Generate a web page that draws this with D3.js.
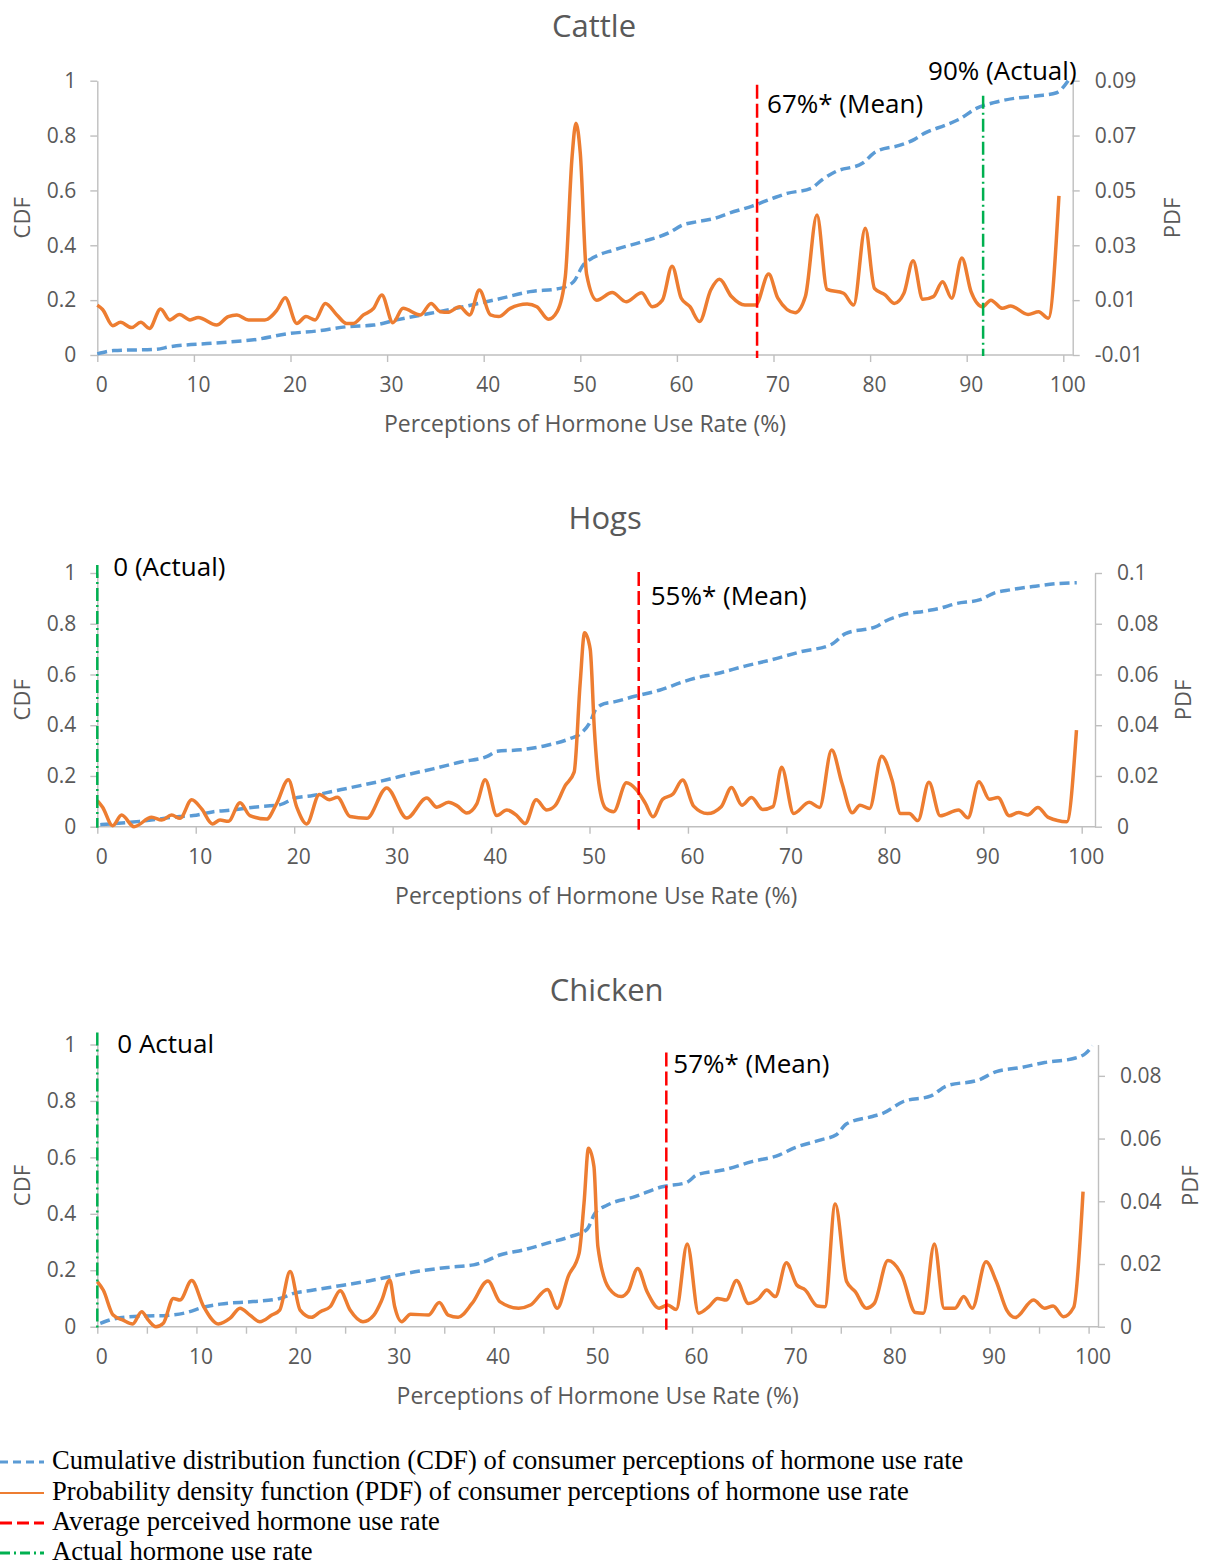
<!DOCTYPE html>
<html>
<head>
<meta charset="utf-8">
<script src="https://cdn.jsdelivr.net/npm/d3@7"></script>
<style>
  body { margin: 0; background: #fff; }
  svg { display: block; }
</style>
</head>
<body>
<script>
// ---- data (x = perceived hormone use rate, %) ----
const xTicks = [0, 10, 20, 30, 40, 50, 60, 70, 80, 90, 100];
const xMinorTicks = [0, 5, 10, 15, 20, 25, 30, 35, 40, 45, 50, 55, 60, 65, 70, 75, 80, 85, 90, 95, 100];
const cdfTicks = [0, 0.2, 0.4, 0.6, 0.8, 1];
const cattlePdfTicks = [-0.01, 0.01, 0.03, 0.05, 0.07, 0.09];
const hogsPdfTicks = [0, 0.02, 0.04, 0.06, 0.08, 0.1];
const chickenPdfTicks = [0, 0.02, 0.04, 0.06, 0.08];

const cattleCdf = [[0,0.004],[1.7,0.016],[6.1,0.021],[7.5,0.030],[12.0,0.043],[16.5,0.057],[19.6,0.077],[23.1,0.089],[25.8,0.103],[28.6,0.109],[31.0,0.128],[34.5,0.152],[37.9,0.176],[41.4,0.203],[44.8,0.231],[47.9,0.243],[49.3,0.267],[50.3,0.328],[51.4,0.356],[53.5,0.383],[56.4,0.413],[59.2,0.446],[60.6,0.474],[62.1,0.486],[63.9,0.498],[65.3,0.516],[67.8,0.543],[69.9,0.571],[71.4,0.589],[73.9,0.608],[75.0,0.638],[76.4,0.668],[79.2,0.699],[80.6,0.741],[83.1,0.765],[84.6,0.786],[85.6,0.808],[87.8,0.838],[89.2,0.859],[91.0,0.899],[92.8,0.920],[95.0,0.936],[97.4,0.945],[99.3,0.956],[100.5,1.0]];

const cattlePdf = [[0,0.0082],[0.55,0.0066],[1.6,0.0007],[2.4,0.0019],[3.55,0.0000],[4.5,0.0019],[5.4,-0.0003],[6.55,0.0068],[7.5,0.0028],[8.5,0.0048],[9.6,0.0028],[10.45,0.0037],[12.35,0.0009],[13.55,0.0040],[14.45,0.0046],[15.65,0.0028],[17.35,0.0028],[18.6,0.0064],[19.45,0.0109],[20.65,0.0015],[21.6,0.0040],[22.55,0.0028],[23.6,0.0088],[24.8,0.0046],[25.8,0.0015],[26.5,0.0015],[27.55,0.0046],[28.6,0.0070],[29.45,0.0119],[30.6,0.0018],[31.65,0.0070],[33.45,0.0046],[34.55,0.0088],[35.5,0.0058],[36.35,0.0056],[37.5,0.0076],[38.55,0.0046],[39.55,0.0137],[40.7,0.0046],[41.55,0.0040],[42.75,0.0070],[44.5,0.0086],[45.5,0.0076],[46.7,0.0030],[47.6,0.0058],[48.45,0.0186],[49.15,0.0623],[49.55,0.0745],[50.0,0.0635],[50.65,0.0195],[51.7,0.0100],[53.3,0.0128],[54.75,0.0094],[56.35,0.0127],[57.45,0.0076],[58.5,0.0100],[59.5,0.0224],[60.45,0.0107],[61.35,0.0076],[62.35,0.0022],[63.5,0.0137],[64.4,0.0176],[65.65,0.0113],[67.05,0.0082],[68.15,0.0082],[69.5,0.0195],[70.45,0.0107],[72.25,0.0054],[73.3,0.0113],[74.5,0.0410],[75.55,0.0139],[77.25,0.0125],[78.3,0.0082],[79.5,0.0362],[80.45,0.0143],[81.55,0.0119],[82.5,0.0088],[83.5,0.0125],[84.45,0.0244],[85.45,0.0103],[86.55,0.0113],[87.5,0.0167],[88.45,0.0107],[89.5,0.0254],[90.45,0.0131],[91.65,0.0076],[92.5,0.0100],[93.7,0.0070],[94.55,0.0079],[96.35,0.0048],[97.45,0.0058],[98.45,0.0034],[99.55,0.0480]];

const hogsCdf = [[0.3,0.008],[4.3,0.021],[8.4,0.040],[9.75,0.044],[11.8,0.059],[13.8,0.066],[15.9,0.077],[18.6,0.087],[19.9,0.110],[21.9,0.123],[24,0.140],[26.7,0.162],[29.4,0.185],[31.8,0.208],[34.1,0.228],[36.9,0.255],[39.6,0.277],[40.6,0.297],[43,0.303],[45.7,0.321],[48,0.347],[49.1,0.367],[50.07,0.413],[50.6,0.46],[51.5,0.485],[52.5,0.492],[54.6,0.514],[57.1,0.538],[59.5,0.571],[60.6,0.584],[63.0,0.604],[65.8,0.633],[68.6,0.659],[71.4,0.689],[74.6,0.719],[76,0.761],[79.2,0.790],[79.9,0.807],[81.6,0.833],[84.1,0.850],[85.5,0.860],[87.2,0.879],[89.7,0.895],[91.1,0.921],[92.8,0.934],[95.3,0.948],[97.4,0.958],[99.5,0.962]];

const hogsPdf = [[0,0.0103],[0.54,0.0077],[1.56,0.0004],[2.47,0.0046],[3.73,0],[5.52,0.0037],[6.54,0.0026],[7.55,0.0046],[8.4,0.0033],[9.59,0.0106],[10.6,0.0070],[11.69,0.0011],[12.47,0.0026],[13.31,0.0021],[14.5,0.0094],[15.5,0.0044],[17.2,0.0030],[18.2,0.0090],[19.41,0.0185],[20.26,0.0077],[21.27,0.0011],[22.56,0.0127],[23.58,0.0106],[24.39,0.0116],[25.68,0.0040],[27.37,0.0033],[29.4,0.0153],[31.44,0.0034],[33.47,0.0113],[34.49,0.0077],[35.67,0.0096],[36.52,0.0083],[37.53,0.0054],[38.55,0.0090],[39.4,0.0185],[40.58,0.0044],[41.6,0.0066],[42.62,0.0044],[43.46,0.0013],[44.58,0.0106],[45.66,0.0066],[46.51,0.0083],[47.53,0.0162],[48.44,0.0215],[49.05,0.0565],[49.5,0.0764],[50.07,0.0700],[50.5,0.0380],[50.95,0.0171],[51.65,0.0072],[52.45,0.0059],[53.75,0.0173],[54.8,0.0144],[55.68,0.0092],[56.45,0.0039],[57.43,0.0108],[58.48,0.0129],[59.46,0.0184],[60.58,0.0081],[61.98,0.0052],[63.38,0.0079],[64.43,0.0155],[65.48,0.0085],[66.46,0.0115],[67.59,0.0068],[68.64,0.0079],[69.52,0.0234],[70.74,0.0052],[72.32,0.0096],[73.37,0.0076],[74.6,0.0302],[75.65,0.0171],[76.7,0.0055],[77.47,0.0085],[78.45,0.0072],[79.68,0.0278],[80.73,0.0184],[81.6,0.0052],[82.48,0.0052],[83.36,0.0024],[84.48,0.0175],[85.63,0.0043],[87.49,0.0066],[88.44,0.0035],[89.56,0.0177],[90.64,0.0108],[91.49,0.0115],[92.64,0.0043],[93.59,0.0056],[94.5,0.0046],[95.55,0.0076],[96.6,0.0037],[98.49,0.0020],[99.47,0.0381]];

const chickenCdf = [[0.3,0.012],[2.3,0.032],[5,0.038],[7,0.040],[9,0.050],[10.7,0.069],[12.4,0.080],[15.7,0.089],[18.4,0.100],[19.8,0.118],[21.8,0.130],[24.8,0.147],[27.5,0.163],[29.5,0.177],[31.2,0.189],[35.3,0.210],[37.95,0.219],[39.3,0.234],[40.6,0.254],[43,0.272],[45.4,0.296],[47.7,0.319],[49.4,0.345],[50.2,0.402],[51.46,0.431],[54.24,0.461],[57.0,0.496],[59.44,0.511],[60.49,0.538],[63.26,0.556],[66.04,0.585],[68.82,0.609],[70.2,0.632],[72.99,0.662],[74.55,0.680],[75.59,0.719],[78.19,0.745],[79.24,0.756],[81.32,0.798],[84.1,0.818],[85.66,0.853],[88.96,0.875],[90.69,0.904],[93.13,0.918],[95.56,0.936],[98.68,0.952],[99.72,0.969],[100.4,0.995]];

const chickenPdf = [[0,0.0144],[0.6,0.0117],[1.6,0.0037],[2.6,0.0021],[3.57,0.0009],[4.48,0.0048],[5.15,0.0021],[5.92,0],[6.66,0.0011],[7.67,0.0090],[8.34,0.0085],[9.52,0.0147],[10.7,0.0066],[12.2,0.0009],[13.4,0.0027],[14.4,0.0059],[15.4,0.0037],[16.4,0.0016],[17.6,0.0037],[18.4,0.0053],[19.45,0.0176],[20.46,0.0053],[21.6,0.0030],[22.5,0.0048],[23.5,0.0064],[24.5,0.0115],[25.5,0.0053],[26.8,0.0016],[27.9,0.0037],[28.7,0.0085],[29.5,0.0149],[30.0,0.0064],[30.7,0.0016],[31.6,0.0040],[33.4,0.0037],[34.5,0.0077],[35.4,0.0037],[36.4,0.0030],[37.8,0.0074],[39.4,0.0146],[40.6,0.0080],[42.5,0.0059],[43.7,0.0069],[45.4,0.0119],[46.4,0.0059],[47.5,0.0160],[48.6,0.0234],[49.1,0.0394],[49.55,0.0569],[50.1,0.0511],[50.5,0.0255],[51.63,0.0122],[52.85,0.0096],[53.54,0.0112],[54.51,0.0186],[55.45,0.0112],[56.67,0.0059],[57.53,0.0069],[58.4,0.0055],[59.51,0.0264],[60.66,0.0043],[61.7,0.0064],[62.57,0.0090],[63.44,0.0085],[64.48,0.0147],[65.69,0.0074],[66.74,0.0090],[67.53,0.0117],[68.4,0.0096],[69.51,0.0204],[70.56,0.0133],[71.42,0.0117],[72.64,0.0066],[73.4,0.0064],[74.44,0.0391],[75.59,0.0144],[76.46,0.0112],[77.57,0.0059],[78.37,0.0074],[79.76,0.0211],[81.15,0.0165],[82.53,0.0045],[83.33,0.0043],[84.44,0.0264],[85.42,0.0059],[86.53,0.0059],[87.4,0.0096],[88.26,0.0059],[89.65,0.0207],[90.69,0.0144],[91.74,0.0053],[92.6,0.0029],[94.44,0.0085],[95.55,0.0059],[96.42,0.0066],[97.47,0.0032],[98.5,0.0062],[99.44,0.0431]];

const meanRates = [68.3, 55, 57.4];
const actualRates = [91.7, 0, 0];
const meanLabels = ["67%* (Mean)", "55%* (Mean)", "57%* (Mean)"];
const actualLabels = ["90% (Actual)", "0 (Actual)", "0 Actual"];
const titles = ["Cattle", "Hogs", "Chicken"];
const xTitle = "Perceptions of Hormone Use Rate (%)";
const legendLabels = [
  "Cumulative distribution function (CDF) of consumer perceptions of hormone use rate",
  "Probability density function (PDF) of consumer perceptions of hormone use rate",
  "Average perceived hormone use rate",
  "Actual hormone use rate"
];

// ---- styles ----
const C_CDF = "#5B9BD5", C_PDF = "#ED7D31", C_MEAN = "#FF0000", C_ACT = "#00B050";
const C_AXIS = "#BFBFBF", C_TXT = "#595959";
const FONT = "'Open Sans', 'Noto Sans', sans-serif";

// layout of each panel (pixels)
const panels = [
  {cdf: cattleCdf, pdf: cattlePdf, pdfDomain: [-0.01, 0.09], pdfTicks: cattlePdfTicks, xt: xTicks,
   left: 97.3, x100: 1063.3, right: 1072.7, top: 80.7, bottom: 355, pdfLblDx: 107,
   meanTop: 4, actTop: 15, meanLbl: {dx: 10, y: 113}, actLbl: {dx: -55, y: 80}},
  {cdf: hogsCdf, pdf: hogsPdf, pdfDomain: [0, 0.1], pdfTicks: hogsPdfTicks, xt: xTicks,
   left: 97.3, x100: 1081.7, right: 1095, top: 573, bottom: 826.7, pdfLblDx: 96,
   meanTop: -1, actTop: -8, meanLbl: {dx: 12, y: 605}, actLbl: {dx: 16, y: 576}},
  {cdf: chickenCdf, pdf: chickenPdf, pdfDomain: [0, 0.09], pdfTicks: chickenPdfTicks, xt: xMinorTicks,
   left: 97.3, x100: 1088.6, right: 1098, top: 1044.5, bottom: 1326.7, pdfLblDx: 100,
   meanTop: 8, actTop: -12, meanLbl: {dx: 7, y: 1073}, actLbl: {dx: 20, y: 1053}}
];

const svg = d3.select("body").append("svg")
  .attr("width", 1208).attr("height", 1566)
  .style("font-family", FONT);
svg.append("rect").attr("width", 1208).attr("height", 1566).attr("fill", "#fff");

function styleAxis(g) {
  g.selectAll("path, line").attr("stroke", C_AXIS).attr("stroke-width", 1.4);
  g.selectAll("text").attr("fill", C_TXT).style("font-size", "21px").style("font-family", FONT);
}

panels.forEach((p, i) => {
  const x = d3.scaleLinear().domain([0, 100]).range([p.left, p.x100]);
  const yCdf = d3.scaleLinear().domain([0, 1]).range([p.bottom, p.top]);
  const yPdf = d3.scaleLinear().domain(p.pdfDomain).range([p.bottom, p.top]);
  const g = svg.append("g");

  // x axis
  const gx = g.append("g").attr("transform", `translate(0,${p.bottom})`)
    .call(d3.axisBottom(x).tickValues(p.xt).tickSize(7).tickSizeOuter(0).tickPadding(15)
      .tickFormat(d => d % 10 === 0 ? d : ""));
  gx.select(".domain").remove();
  gx.append("line").attr("x1", p.left).attr("x2", p.right);
  gx.selectAll(".tick text").attr("dx", 4);
  styleAxis(gx);

  // left (CDF) axis
  const gl = g.append("g").attr("transform", `translate(${p.left},0)`)
    .call(d3.axisLeft(yCdf).tickValues(cdfTicks).tickSize(7).tickSizeOuter(0).tickPadding(14)
      .tickFormat(d => String(d)));
  styleAxis(gl);

  // right (PDF) axis
  const gr = g.append("g").attr("transform", `translate(${p.right},0)`)
    .call(d3.axisRight(yPdf).tickValues(p.pdfTicks).tickSize(7).tickSizeOuter(0).tickPadding(15)
      .tickFormat(d => String(d)));
  styleAxis(gr);

  // titles
  const midY = (p.top + p.bottom) / 2;
  const midX = (p.left + p.right) / 2;
  g.append("text").attr("x", midX + 9).attr("y", p.top - 44)
    .attr("text-anchor", "middle").attr("fill", C_TXT).style("font-size", "31px").text(titles[i]);
  g.append("text").attr("x", midX).attr("y", p.bottom + 77)
    .attr("text-anchor", "middle").attr("fill", C_TXT).style("font-size", "23px").text(xTitle);
  g.append("text").attr("transform", `translate(30,${midY}) rotate(-90)`)
    .attr("text-anchor", "middle").attr("fill", C_TXT).style("font-size", "22px").text("CDF");
  g.append("text").attr("transform", `translate(${p.right + p.pdfLblDx},${midY}) rotate(-90)`)
    .attr("text-anchor", "middle").attr("fill", C_TXT).style("font-size", "22px").text("PDF");

  // curves
  const lineCdf = d3.line().x(d => x(d[0])).y(d => yCdf(d[1])).curve(d3.curveMonotoneX);
  const linePdf = d3.line().x(d => x(d[0])).y(d => yPdf(d[1])).curve(d3.curveMonotoneX);
  g.append("path").datum(p.cdf).attr("d", lineCdf)
    .attr("fill", "none").attr("stroke", C_CDF).attr("stroke-width", 3.5)
    .attr("stroke-dasharray", "10,5");
  g.append("path").datum(p.pdf).attr("d", linePdf)
    .attr("fill", "none").attr("stroke", C_PDF).attr("stroke-width", 3.5)
    .attr("stroke-linejoin", "round");

  // mean and actual markers
  const mx = x(meanRates[i]), ax = x(actualRates[i]);
  g.append("line").attr("x1", mx).attr("x2", mx)
    .attr("y1", p.top + p.meanTop).attr("y2", p.bottom + 3)
    .attr("stroke", C_MEAN).attr("stroke-width", 2.5).attr("stroke-dasharray", "14,5");
  g.append("line").attr("x1", ax).attr("x2", ax)
    .attr("y1", p.top + p.actTop).attr("y2", p.bottom + 1)
    .attr("stroke", C_ACT).attr("stroke-width", 2.5).attr("stroke-dasharray", "13,4,2,4");

  g.append("text").attr("x", mx + p.meanLbl.dx).attr("y", p.meanLbl.y)
    .attr("fill", "#000").style("font-size", "26px").text(meanLabels[i]);
  g.append("text").attr("x", ax + p.actLbl.dx).attr("y", p.actLbl.y)
    .attr("fill", "#000").style("font-size", "26px").text(actualLabels[i]);
});

// legend
const legendStyles = [
  {color: C_CDF, dash: "8,5", w: 3},
  {color: C_PDF, dash: null, w: 2},
  {color: C_MEAN, dash: "12,5", w: 3},
  {color: C_ACT, dash: "10,4,2,4", w: 3}
];
const legendY = [1462, 1493, 1523, 1553];
const lg = svg.append("g");
legendLabels.forEach((t, i) => {
  const s = legendStyles[i];
  lg.append("line").attr("x1", 0).attr("x2", 44).attr("y1", legendY[i]).attr("y2", legendY[i])
    .attr("stroke", s.color).attr("stroke-width", s.w)
    .attr("stroke-dasharray", s.dash);
  lg.append("text").attr("x", 52).attr("y", legendY[i] + 7)
    .attr("fill", "#000")
    .style("font-family", "'Liberation Serif', 'DejaVu Serif', serif")
    .style("font-size", "26.6px").text(t);
});
</script>
</body>
</html>
